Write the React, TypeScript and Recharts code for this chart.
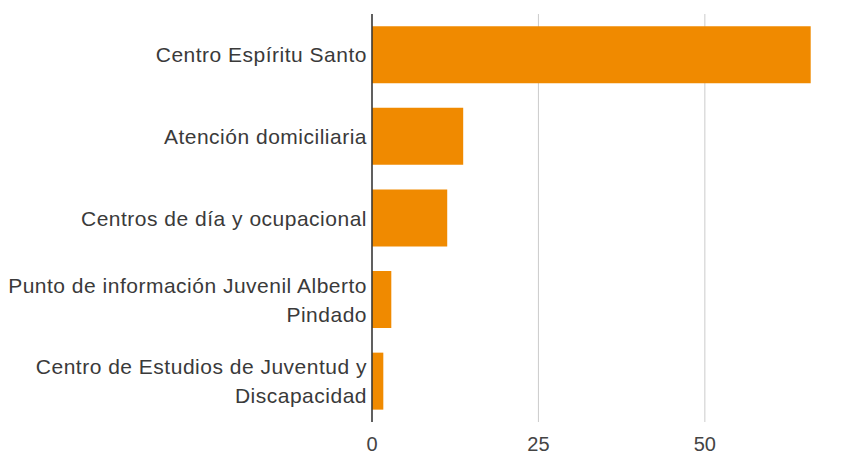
import React from "react";
import { BarChart, Bar, XAxis, YAxis, CartesianGrid } from "recharts";

const categories = [
  "Centro Espíritu Santo",
  "Atención domiciliaria",
  "Centros de día y ocupacional",
  "Punto de información Juvenil Alberto Pindado",
  "Centro de Estudios de Juventud y Discapacidad",
];
const values = [65.9, 13.7, 11.3, 2.9, 1.7];
const xTicks = [0, 25, 50];

const data = categories.map((name, i) => ({ name, value: values[i] }));

const FONT = "'Liberation Sans', Arial, sans-serif";

function wrap(label: string, maxChars: number): string[] {
  const words = label.split(" ");
  const lines: string[] = [];
  let cur = "";
  for (const w of words) {
    const next = cur ? cur + " " + w : w;
    if (next.length > maxChars && cur) {
      lines.push(cur);
      cur = w;
    } else {
      cur = next;
    }
  }
  if (cur) lines.push(cur);
  return lines;
}

const YTick = (props: any) => {
  const { x, y, payload } = props;
  const lines = wrap(String(payload.value), 36);
  const lh = 29;
  const start = y - ((lines.length - 1) * lh) / 2;
  return (
    <g>
      {lines.map((l, i) => (
        <text
          key={i}
          x={x + 3}
          y={start + i * lh}
          dy="0.36em"
          textAnchor="end"
          fill="#3a3a3a"
          fontSize={21}
          letterSpacing={0.5}
          fontFamily={FONT}
        >
          {l}
        </text>
      ))}
    </g>
  );
};

export default function App() {
  return (
    <BarChart
      width={853}
      height={447}
      data={data}
      layout="vertical"
      margin={{ top: 6, right: 23, left: 0, bottom: 0 }}
      barCategoryGap="15%"
    >
      <CartesianGrid horizontal={false} stroke="#cccccc" verticalValues={xTicks} />
      <XAxis
        type="number"
        domain={[0, 70]}
        ticks={xTicks}
        axisLine={false}
        tickLine={false}
        height={33}
        tickMargin={9}
        tick={{ fill: "#444", fontSize: 20, fontFamily: FONT }}
      />
      <YAxis
        type="category"
        dataKey="name"
        width={364}
        axisLine={{ stroke: "#333", strokeWidth: 1.5 }}
        tickLine={false}
        tick={<YTick />}
        interval={0}
      />
      <Bar dataKey="value" fill="#f08a00" isAnimationActive={false} />
    </BarChart>
  );
}
